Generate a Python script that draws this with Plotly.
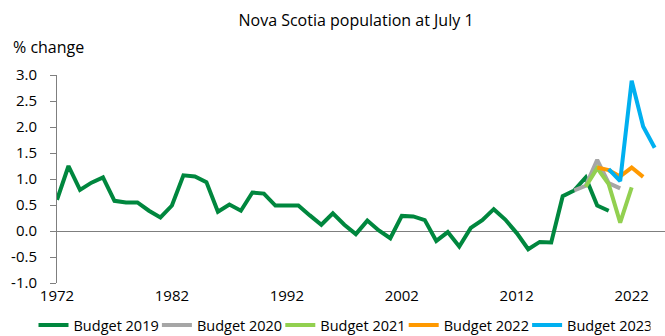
import plotly.graph_objects as go

years_2019 = list(range(1972, 2021))
budget_2019 = [0.60, 1.25, 0.79, 0.93, 1.03, 0.58, 0.55, 0.55, 0.39, 0.26,
               0.49, 1.07, 1.05, 0.94, 0.37, 0.51, 0.39, 0.74, 0.72, 0.49,
               0.49, 0.49, 0.30, 0.12, 0.34, 0.12, -0.06, 0.20, 0.01, -0.14,
               0.29, 0.28, 0.21, -0.19, -0.02, -0.30, 0.06, 0.21, 0.42, 0.22,
               -0.04, -0.35, -0.21, -0.22, 0.67, 0.78, 1.03, 0.49, 0.39]
years_2020 = [2017, 2018, 2019, 2020, 2021]
budget_2020 = [0.78, 0.87, 1.37, 0.92, 0.82]
years_2021 = [2018, 2019, 2020, 2021, 2022]
budget_2021 = [0.85, 1.21, 0.90, 0.16, 0.84]
years_2022 = [2019, 2020, 2021, 2022, 2023]
budget_2022 = [1.22, 1.17, 1.05, 1.22, 1.04]
years_2023 = [2020, 2021, 2022, 2023, 2024]
budget_2023 = [1.19, 0.96, 2.89, 2.01, 1.60]

series = [
    ("Budget 2019", years_2019, budget_2019, "#00873E"),
    ("Budget 2020", years_2020, budget_2020, "#A6A6A6"),
    ("Budget 2021", years_2021, budget_2021, "#92D050"),
    ("Budget 2022", years_2022, budget_2022, "#FF9900"),
    ("Budget 2023", years_2023, budget_2023, "#00B0F0"),
]

x_ticks = [1972, 1982, 1992, 2002, 2012, 2022]
y_ticks = [-1.0, -0.5, 0.0, 0.5, 1.0, 1.5, 2.0, 2.5, 3.0]

FONT = "Open Sans"
W, H = 665, 336
ML, MR, MT, MB = 57, 0, 75, 53
PW, PH = W - ML - MR, H - MT - MB

fig = go.Figure()
for name, xs, ys, color in series:
    fig.add_trace(go.Scatter(x=xs, y=ys, name=name, mode="lines",
                             line=dict(color=color, width=4)))

fig.update_layout(
    width=W, height=H,
    margin=dict(l=ML, r=MR, t=MT, b=MB, autoexpand=False),
    paper_bgcolor="white", plot_bgcolor="white",
    font=dict(family=FONT, size=15, color="#000000"),
    title=dict(text="Nova Scotia population at July 1", x=356/W, xanchor="center",
               y=1 - 20/H, yanchor="middle", font=dict(family=FONT, size=16, color="#000000")),
    showlegend=True,
    legend=dict(orientation="h", xref="paper", yref="paper",
                x=(33.5 - ML)/PW, xanchor="left", y=(MT + PH - 325)/PH, yanchor="middle",
                font=dict(family=FONT, size=14.5, color="#000000"),
                itemwidth=30, entrywidthmode="pixels", entrywidth=78.4,
                tracegroupgap=0, bgcolor="rgba(0,0,0,0)"),
    annotations=[dict(text="% change", xref="paper", yref="paper",
                      x=(11 - ML)/PW, y=1 + (MT - 47)/PH, xanchor="left", yanchor="middle",
                      showarrow=False, font=dict(family=FONT, size=16, color="#000000"))],
)

fig.update_xaxes(range=[1972, 2024.9], tickmode="array", tickvals=x_ticks,
                 ticktext=[str(v) for v in x_ticks], showgrid=False, showline=False,
                 zeroline=False, ticks="", ticklabelstandoff=2,
                 tickfont=dict(family=FONT, size=15, color="#000000"))
fig.update_yaxes(range=[-1, 3], tickmode="array", tickvals=y_ticks,
                 ticktext=[f"{v:.1f}" for v in y_ticks], showgrid=False,
                 showline=True, linecolor="#7F7F7F", linewidth=1,
                 ticks="outside", ticklen=6, tickcolor="#7F7F7F",
                 zeroline=True, zerolinecolor="#7F7F7F", zerolinewidth=1,
                 ticklabelstandoff=10,
                 tickfont=dict(family=FONT, size=15, color="#000000"))

fig.write_html("out.html", config={"displayModeBar": False},
               post_script="document.body.style.margin='0';document.body.style.padding='0';")
